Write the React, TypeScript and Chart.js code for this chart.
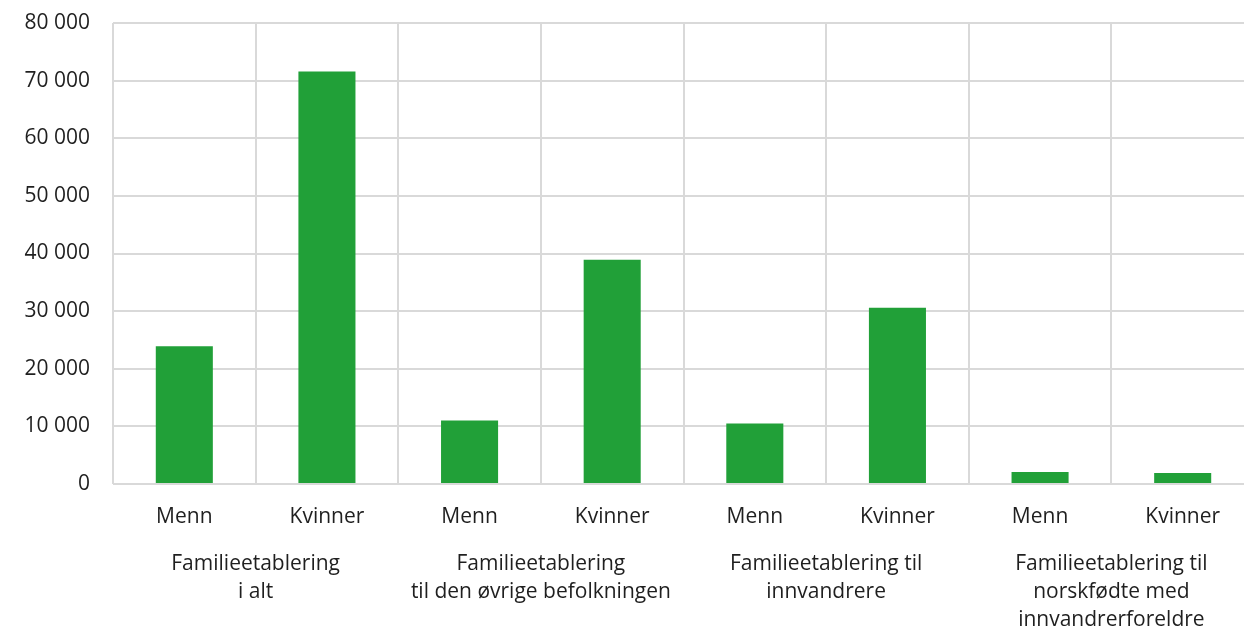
import React, { useEffect, useRef } from "react";
import { Chart, registerables } from "chart.js";

Chart.register(...registerables);

const categories: string[] = ["Menn", "Kvinner", "Menn", "Kvinner", "Menn", "Kvinner", "Menn", "Kvinner"];
const groupLabels: string[][] = [
  ["Familieetablering", "i alt"],
  ["Familieetablering", "til den øvrige befolkningen"],
  ["Familieetablering til", "innvandrere"],
  ["Familieetablering til", "norskfødte med", "innvandrerforeldre"],
];
const values: number[] = [23900, 71600, 11000, 38900, 10500, 30600, 2100, 1900];
const yMin = 0;
const yMax = 80000;
const yStep = 10000;

const FONT = "'Open Sans', 'Noto Sans', sans-serif";
const TEXT = "#1f1f1f";
const GRID = "#d9d9d9";
const BAR = "#21a038";

function fmt(v: number): string {
  return Math.round(v).toString().replace(/\B(?=(\d{3})+(?!\d))/g, " ");
}

export default function App() {
  const ref = useRef<HTMLCanvasElement | null>(null);

  useEffect(() => {
    if (!ref.current) return;
    const chart = new Chart(ref.current, {
      type: "bar",
      data: {
        labels: categories,
        datasets: [
          {
            data: values,
            backgroundColor: BAR,
            borderWidth: 0,
            barPercentage: 0.4,
            categoryPercentage: 1.0,
            xAxisID: "x",
            yAxisID: "y",
          },
        ],
      },
      options: {
        animation: false,
        responsive: false,
        devicePixelRatio: 1,
        layout: { padding: { top: 23, right: 6, bottom: 0, left: 0 } },
        plugins: {
          legend: { display: false },
          tooltip: { enabled: false },
        },
        scales: {
          x: {
            type: "category",
            position: "bottom",
            weight: 0,
            offset: true,
            grid: { display: true, offset: true, color: GRID, lineWidth: 2, drawTicks: false },
            border: { display: false },
            ticks: {
              color: TEXT,
              font: { family: FONT, size: 21, lineHeight: 1.3333 },
              padding: 19,
              maxRotation: 0,
              minRotation: 0,
              autoSkip: false,
            },
            afterFit: (s: any) => {
              s.height = 48;
            },
          },
          x2: {
            type: "category",
            position: "bottom",
            weight: 1,
            labels: groupLabels as any,
            offset: true,
            grid: { display: false, drawTicks: false },
            border: { display: false },
            ticks: {
              color: TEXT,
              font: { family: FONT, size: 21, lineHeight: 1.3333 },
              padding: 18,
              maxRotation: 0,
              minRotation: 0,
              autoSkip: false,
            },
            afterFit: (s: any) => {
              s.height = 96;
            },
          },
          y: {
            type: "linear",
            min: yMin,
            max: yMax,
            border: { display: false },
            grid: {
              color: GRID,
              lineWidth: 2,
              drawTicks: true,
              tickLength: 23,
              tickColor: "rgba(0,0,0,0)",
            },
            ticks: {
              stepSize: yStep,
              color: TEXT,
              font: { family: FONT, size: 21 },
              padding: 0,
              callback: (v: any) => fmt(Number(v)),
            },
            afterFit: (s: any) => {
              s.width = 113;
            },
          },
        },
      },
    });
    return () => chart.destroy();
  }, []);

  return (
    <div style={{ position: "absolute", left: 0, top: 0, width: 1244, height: 628, overflow: "hidden", background: "#fff" }}>
      <canvas ref={ref} width={1260} height={628} style={{ display: "block", width: 1260, height: 628 }} />
    </div>
  );
}
